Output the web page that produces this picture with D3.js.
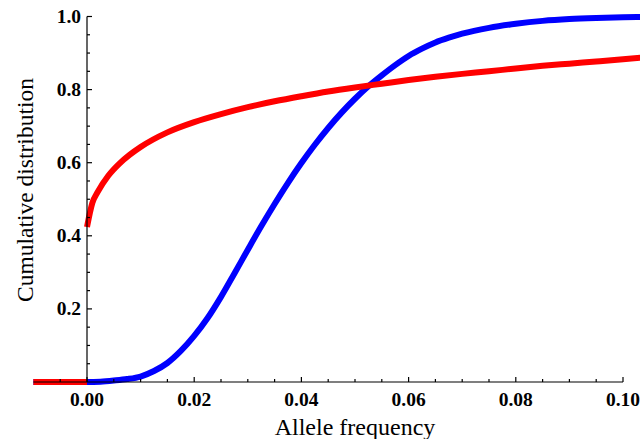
<!DOCTYPE html>
<html><head><meta charset="utf-8">
<script src="https://cdn.jsdelivr.net/npm/d3@7"></script>
<style>body{margin:0;background:#fff}svg{display:block}</style>
</head><body>
<svg id="c" width="640" height="439"></svg>
<script>
const xTicks = [0.00, 0.02, 0.04, 0.06, 0.08, 0.10];
const yTicks = [0.2, 0.4, 0.6, 0.8, 1.0];
const blueX = [-0.01, 0, 0.0025, 0.005, 0.0075, 0.01, 0.0125, 0.015, 0.0175, 0.02, 0.0225, 0.025, 0.0275, 0.03, 0.0325, 0.035, 0.0375, 0.04, 0.0425, 0.045, 0.0475, 0.05, 0.0525, 0.055, 0.0575, 0.06, 0.0625, 0.065, 0.0675, 0.07, 0.075, 0.08, 0.085, 0.09, 0.095, 0.1, 0.104];
const blueY = [0, 0, 0.001, 0.004, 0.008, 0.015, 0.03, 0.052, 0.085, 0.126, 0.175, 0.233, 0.297, 0.362, 0.426, 0.487, 0.545, 0.599, 0.649, 0.695, 0.737, 0.775, 0.809, 0.839, 0.867, 0.892, 0.912, 0.929, 0.942, 0.953, 0.969, 0.98, 0.988, 0.993, 0.996, 0.998, 0.999];
// red: flat part left of zero, then the curve starting at x = 0
const redLeftX = [-0.01, 0];
const redLeftY = [0, 0];
const redX = [0, 0.001, 0.002, 0.004, 0.006, 0.008, 0.01, 0.015, 0.02, 0.025, 0.03, 0.035, 0.04, 0.045, 0.05, 0.055, 0.06, 0.065, 0.07, 0.075, 0.08, 0.085, 0.09, 0.095, 0.1, 0.104];
const redY = [0.424, 0.49, 0.52, 0.565, 0.597, 0.622, 0.643, 0.683, 0.711, 0.733, 0.752, 0.768, 0.782, 0.795, 0.806, 0.816, 0.826, 0.835, 0.843, 0.85, 0.858, 0.865, 0.871, 0.877, 0.883, 0.888];

const svg = d3.select("#c");
const x = d3.scaleLinear().domain([0, 0.1]).range([87, 623]);
const y = d3.scaleLinear().domain([0, 1]).range([382, 16.5]);
const line = d3.line().x(d => x(d[0])).y(d => y(d[1])).curve(d3.curveMonotoneX);
const tickFont = "'Liberation Serif','Times New Roman',serif";
const zip = (a, b) => a.map((v, i) => [v, b[i]]);

svg.append("path").datum(zip(blueX, blueY))
  .attr("d", line).attr("fill", "none").attr("stroke", "#0000ff").attr("stroke-width", 6);
svg.append("path").datum(zip(redLeftX, redLeftY))
  .attr("d", line).attr("fill", "none").attr("stroke", "#ff0000").attr("stroke-width", 6);
svg.append("path").datum(zip(redX, redY))
  .attr("d", line).attr("fill", "none").attr("stroke", "#ff0000").attr("stroke-width", 6);

// axes
const g = svg.append("g").attr("stroke", "#000").attr("stroke-width", 1.2);
g.append("line").attr("x1", x(-0.01)).attr("x2", x(0.1)).attr("y1", y(0)).attr("y2", y(0));
g.append("line").attr("x1", x(0)).attr("x2", x(0)).attr("y1", y(0)).attr("y2", y(1));
const xMinor = d3.range(-0.005, 0.1001, 0.005);
xMinor.forEach(v => {
  const major = Math.abs(Math.round(v / 0.02) * 0.02 - v) < 1e-9;
  g.append("line").attr("x1", x(v)).attr("x2", x(v)).attr("y1", y(0)).attr("y2", y(0) - (major ? 5 : 3));
});
const yMinor = d3.range(0.05, 1.0001, 0.05);
yMinor.forEach(v => {
  const major = Math.abs(Math.round(v / 0.2) * 0.2 - v) < 1e-9;
  g.append("line").attr("x1", x(0)).attr("x2", x(0) + (major ? 5 : 3)).attr("y1", y(v)).attr("y2", y(v));
});

svg.selectAll(".xt").data(xTicks).enter().append("text")
  .attr("x", d => x(d)).attr("y", 406).attr("text-anchor", "middle")
  .attr("font-family", tickFont).attr("font-weight", "bold").attr("font-size", 19.5)
  .text(d => d3.format(".2f")(d));
svg.selectAll(".yt").data(yTicks).enter().append("text")
  .attr("x", 81).attr("y", d => y(d) + 6.5).attr("text-anchor", "end")
  .attr("font-family", tickFont).attr("font-weight", "bold").attr("font-size", 19.5)
  .text(d => d3.format(".1f")(d));

svg.append("text").attr("x", 355).attr("y", 435).attr("text-anchor", "middle")
  .attr("font-family", tickFont).attr("font-size", 24).text("Allele frequency");
svg.append("text").attr("transform", "translate(33,190) rotate(-90)").attr("text-anchor", "middle")
  .attr("font-family", tickFont).attr("font-size", 23.5).text("Cumulative distribution");
</script>
</body></html>
